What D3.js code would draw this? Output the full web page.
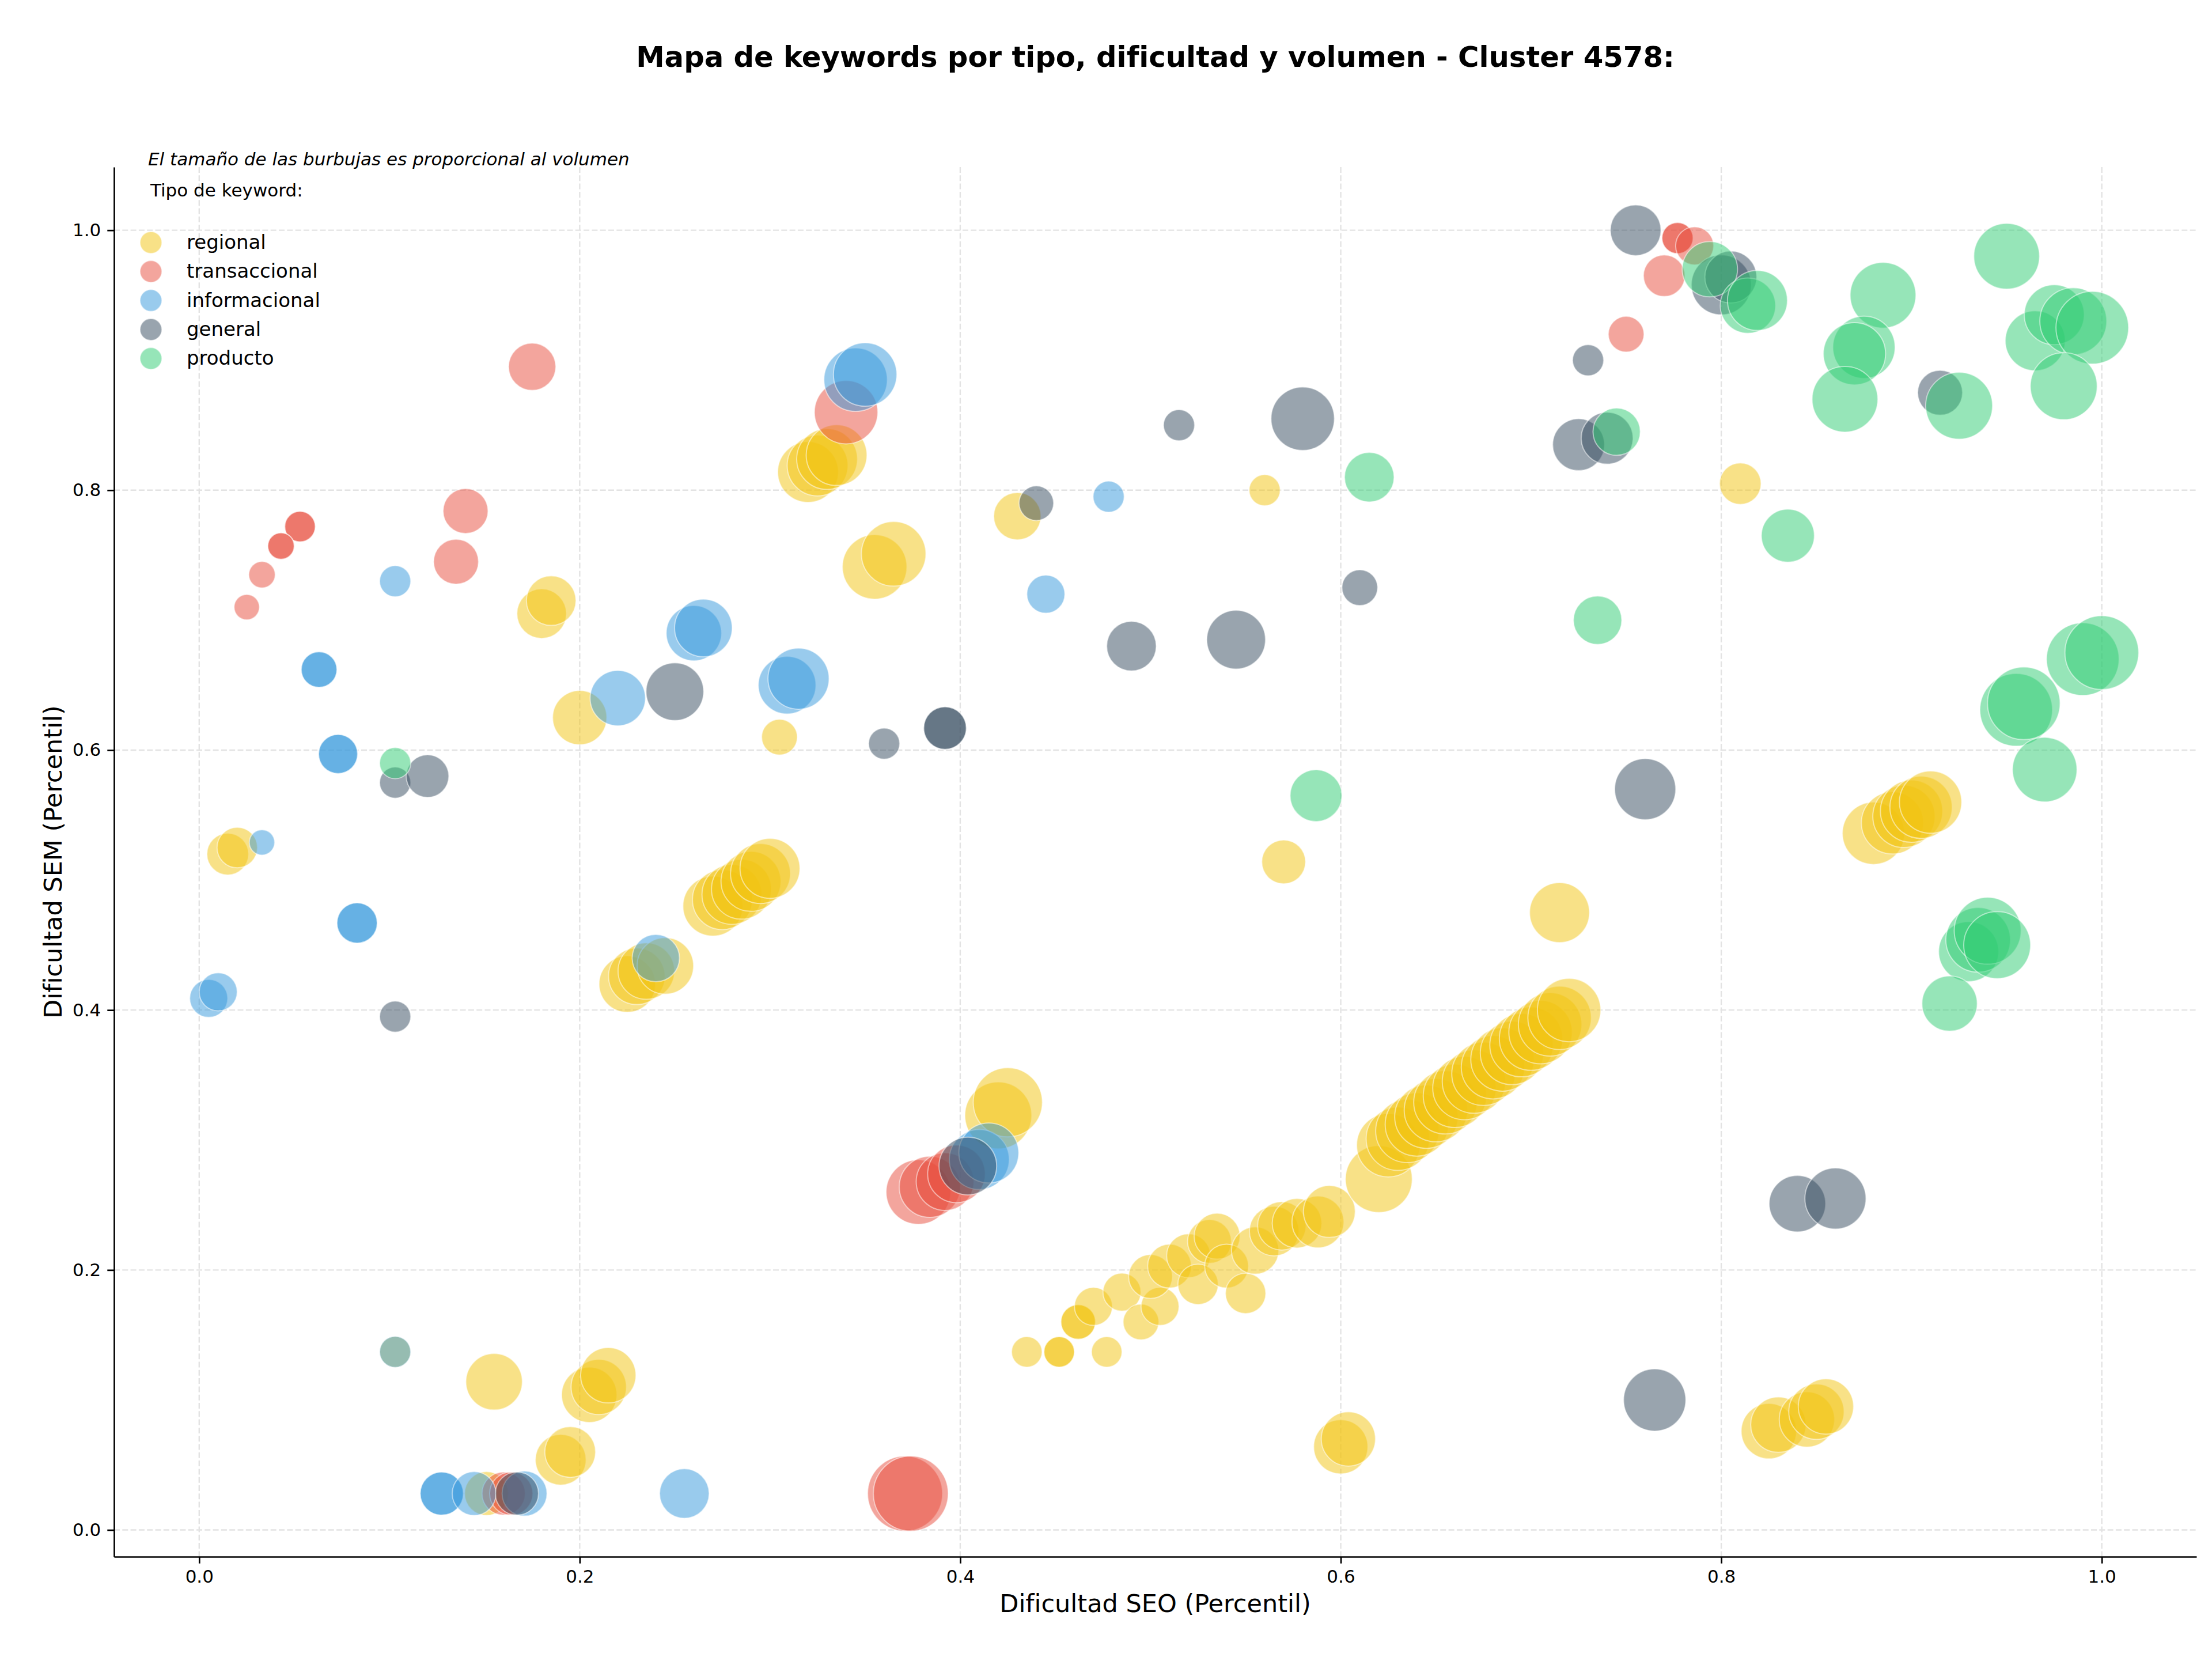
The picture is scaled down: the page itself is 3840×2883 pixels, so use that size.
<!DOCTYPE html>
<html lang="es">
<head>
    <meta charset="UTF-8">
    <title>Mapa de keywords - Cluster 4578</title>
    <style>
        * {
            margin:0;
            border: 0;
            box-sizing: border-box;
        }
        body {
            background: #fff;
        }
        #chart text {
            font-family: "DejaVu Sans", sans-serif;
        }
    </style>
    <script src="https://unpkg.com/d3@7.6.1/dist/d3.min.js"></script>
    <script>
        // [dificultad SEO, dificultad SEM, volumen]
        const tipos=["regional","transaccional","informacional","general","producto"];
        const colores=["#f1c40f","#e74c3c","#3498db","#34495e","#2ecc71"];

        const regional=[
            [0.015,0.520,330],[0.020,0.525,310],
            [0.180,0.705,466],[0.185,0.715,466],[0.200,0.625,557],[0.305,0.610,242],
            [0.320,0.814,700],[0.325,0.819,700],[0.330,0.824,700],[0.335,0.827,700],
            [0.355,0.741,790],[0.365,0.751,790],[0.430,0.780,424],[0.560,0.800,184],
            [0.810,0.805,327],[0.570,0.514,364],[0.715,0.475,681],
            [0.225,0.420,605],[0.230,0.426,605],[0.235,0.430,605],[0.245,0.434,605],
            [0.270,0.480,681],[0.275,0.485,681],[0.280,0.489,681],[0.285,0.493,681],
            [0.290,0.499,681],[0.295,0.505,681],[0.300,0.509,681],
            [0.420,0.319,848],[0.425,0.329,907],
            [0.435,0.137,177],[0.452,0.137,177],[0.452,0.137,177],[0.477,0.137,177],
            [0.462,0.160,227],[0.462,0.160,227],[0.470,0.172,274],[0.485,0.183,274],
            [0.495,0.160,242],[0.505,0.172,274],[0.500,0.195,364],[0.510,0.203,364],
            [0.520,0.211,364],[0.525,0.189,309],[0.531,0.222,364],[0.535,0.226,400],
            [0.540,0.203,364],[0.550,0.182,309],[0.555,0.215,424],[0.565,0.230,466],
            [0.569,0.234,444],[0.577,0.236,466],[0.588,0.237,510],[0.594,0.245,510],
            [0.620,0.270,848],
            [0.625,0.296,762],[0.630,0.301,762],[0.635,0.307,762],[0.640,0.312,762],
            [0.645,0.318,762],[0.650,0.323,762],[0.655,0.329,762],[0.660,0.334,762],
            [0.665,0.340,762],[0.670,0.345,762],[0.675,0.351,762],[0.680,0.356,762],
            [0.685,0.362,762],[0.690,0.367,762],[0.695,0.373,762],[0.700,0.378,762],
            [0.705,0.383,762],[0.710,0.389,762],[0.715,0.394,762],[0.720,0.400,762],
            [0.880,0.536,735],[0.890,0.544,735],[0.896,0.549,735],[0.900,0.553,735],
            [0.905,0.556,735],[0.910,0.560,735],
            [0.825,0.076,580],[0.830,0.081,580],[0.845,0.085,580],[0.850,0.091,580],[0.855,0.095,580],
            [0.600,0.064,557],[0.604,0.070,557],
            [0.155,0.114,605],[0.205,0.104,580],[0.210,0.110,580],[0.215,0.119,580],
            [0.190,0.054,488],[0.195,0.060,488],
            [0.151,0.028,364],[0.103,0.137,184]
        ];
        const transaccional=[
            [0.175,0.895,424],[0.053,0.772,177],[0.053,0.772,177],[0.043,0.757,133],
            [0.043,0.757,133],[0.033,0.735,133],[0.025,0.710,122],
            [0.140,0.784,383],[0.135,0.745,383],[0.340,0.860,762],
            [0.378,0.260,790],[0.384,0.264,708],[0.392,0.268,630],[0.398,0.274,630],
            [0.371,0.028,1065],[0.374,0.028,1065],
            [0.160,0.028,354],[0.164,0.028,354],
            [0.777,0.994,184],[0.777,0.994,184],[0.786,0.988,274],[0.770,0.965,327],[0.750,0.920,242]
        ];
        const informacional=[
            [0.103,0.730,184],[0.063,0.662,242],[0.063,0.662,242],[0.073,0.597,290],
            [0.073,0.597,290],[0.033,0.529,122],[0.083,0.467,309],[0.083,0.467,309],
            [0.005,0.409,274],[0.010,0.414,274],
            [0.220,0.640,580],[0.260,0.690,580],[0.265,0.694,630],[0.309,0.650,630],[0.315,0.655,708],
            [0.345,0.885,762],[0.350,0.889,762],[0.240,0.440,424],
            [0.478,0.795,184],[0.445,0.720,274],
            [0.410,0.285,681],[0.415,0.290,681],
            [0.1275,0.028,354],[0.1275,0.028,354],[0.1445,0.028,364],[0.171,0.028,383],
            [0.255,0.028,466],[0.103,0.137,184]
        ];
        const general=[
            [0.103,0.575,184],[0.120,0.580,345],[0.103,0.395,184],[0.250,0.645,630],
            [0.440,0.790,227],[0.515,0.850,184],[0.580,0.855,762],[0.490,0.680,466],
            [0.545,0.685,655],[0.610,0.725,242],[0.360,0.605,184],[0.392,0.617,345],[0.392,0.617,345],
            [0.404,0.280,630],
            [0.167,0.028,354],
            [0.755,1.000,488],[0.730,0.900,184],[0.725,0.835,510],[0.740,0.840,510],
            [0.800,0.958,681],[0.805,0.964,510],
            [0.915,0.875,383],[0.760,0.570,708],[0.840,0.251,605],[0.860,0.255,708],[0.765,0.100,735]
        ];
        const producto=[
            [0.103,0.590,184],
            [0.587,0.565,510],[0.615,0.810,466],[0.735,0.700,444],[0.835,0.765,533],
            [0.745,0.845,424],[0.794,0.970,580],[0.814,0.942,580],[0.819,0.946,681],
            [0.885,0.950,819],[0.875,0.910,735],[0.870,0.905,735],[0.865,0.870,819],[0.950,0.980,819],
            [0.965,0.915,681],[0.975,0.935,681],[0.985,0.930,848],[0.995,0.925,1000],
            [0.980,0.880,848],[0.925,0.865,848],
            [0.990,0.670,1000],[1.000,0.675,1032],[0.955,0.631,1000],[0.959,0.636,1000],[0.970,0.585,790],
            [0.930,0.445,681],[0.935,0.454,790],[0.940,0.461,848],[0.945,0.450,848],[0.920,0.405,580]
        ];
        const series=[regional,transaccional,informacional,general,producto];
        const ticks=[0,0.2,0.4,0.6,0.8,1.0];
    </script>
</head>
<body>
    <div id="chart"></div>
    <script>
        const width=3840;
        const height=2883;
        const marginTop=290;
        const marginRight=27;
        const marginBottom=181;
        const marginLeft=198;
        const alpha=0.5;

        const all=series.flat();
        const pad=(ext)=>[ext[0]-0.05*(ext[1]-ext[0]),ext[1]+0.05*(ext[1]-ext[0])];
        const xScale=d3.scaleLinear(pad(d3.extent(all,d=>d[0])),[marginLeft,width-marginRight]);
        const yScale=d3.scaleLinear(pad(d3.extent(all,d=>d[1])),[height-marginBottom,marginTop]);
        const rScale=d3.scaleSqrt([0,1000],[0,63]);

        const svg=d3.select("#chart").append("svg")
            .attr("width",width)
            .attr("height",height);

        // grid
        svg.append("g")
            .selectAll("line")
            .data(ticks)
            .join("line")
              .attr("x1",d=>xScale(d)).attr("x2",d=>xScale(d))
              .attr("y1",marginTop).attr("y2",height-marginBottom)
              .attr("stroke","#e3e3e3").attr("stroke-width",2.4)
              .attr("stroke-dasharray","10,4.3");
        svg.append("g")
            .selectAll("line")
            .data(ticks)
            .join("line")
              .attr("x1",marginLeft).attr("x2",width-marginRight)
              .attr("y1",d=>yScale(d)).attr("y2",d=>yScale(d))
              .attr("stroke","#e3e3e3").attr("stroke-width",2.4)
              .attr("stroke-dasharray","10,4.3");

        // bubbles
        series.forEach((s,i)=>{
            svg.append("g")
                .selectAll("circle")
                .data(s)
                .join("circle")
                  .attr("cx",d=>xScale(d[0]))
                  .attr("cy",d=>yScale(d[1]))
                  .attr("r",d=>rScale(d[2]))
                  .attr("fill",colores[i])
                  .attr("fill-opacity",alpha)
                  .attr("stroke","#fff")
                  .attr("stroke-opacity",alpha)
                  .attr("stroke-width",2);
        });

        // axes
        const xAxis=d3.axisBottom(xScale).tickValues(ticks).tickFormat(d3.format(".1f"))
            .tickSize(11.7).tickSizeOuter(0).tickPadding(11);
        const yAxis=d3.axisLeft(yScale).tickValues(ticks).tickFormat(d3.format(".1f"))
            .tickSize(11.7).tickSizeOuter(0).tickPadding(11);
        svg.append("g")
            .attr("transform",`translate(0,${height-marginBottom})`)
            .call(xAxis)
            .call(g=>g.select(".domain").attr("stroke-width",2.7))
            .call(g=>g.selectAll(".tick line").attr("stroke-width",2.7))
            .call(g=>g.selectAll(".tick text").attr("font-size",31).attr("fill","#000")
                .attr("font-family","DejaVu Sans"));
        svg.append("g")
            .attr("transform",`translate(${marginLeft},0)`)
            .call(yAxis)
            .call(g=>g.select(".domain").attr("stroke-width",2.7))
            .call(g=>g.selectAll(".tick line").attr("stroke-width",2.7))
            .call(g=>g.selectAll(".tick text").attr("font-size",31).attr("fill","#000")
                .attr("font-family","DejaVu Sans"));

        // labels
        svg.append("text")
            .attr("x",(marginLeft+width-marginRight)/2).attr("y",116)
            .attr("text-anchor","middle").attr("font-size",49.7).attr("font-weight","bold")
            .text("Mapa de keywords por tipo, dificultad y volumen - Cluster 4578:");
        svg.append("text")
            .attr("x",(marginLeft+width-marginRight)/2).attr("y",2798)
            .attr("text-anchor","middle").attr("font-size",43)
            .text("Dificultad SEO (Percentil)");
        svg.append("text")
            .attr("transform",`translate(107,${(marginTop+height-marginBottom)/2}) rotate(-90)`)
            .attr("text-anchor","middle").attr("font-size",43)
            .text("Dificultad SEM (Percentil)");

        svg.append("text")
            .attr("x",257).attr("y",287)
            .attr("font-size",31).attr("font-style","italic")
            .text("El tamaño de las burbujas es proporcional al volumen");
        svg.append("text")
            .attr("x",261).attr("y",341)
            .attr("font-size",31)
            .text("Tipo de keyword:");

        // legend
        const legend=svg.append("g")
            .selectAll("g")
            .data(tipos)
            .join("g")
              .attr("transform",(d,i)=>`translate(262,${421+i*50.3})`);
        legend.append("circle")
            .attr("r",19)
            .attr("fill",(d,i)=>colores[i])
            .attr("fill-opacity",alpha)
            .attr("stroke","#fff").attr("stroke-opacity",alpha).attr("stroke-width",2);
        legend.append("text")
            .attr("x",62).attr("y",11)
            .attr("font-size",34)
            .text(d=>d);
    </script>
</body>
</html>
